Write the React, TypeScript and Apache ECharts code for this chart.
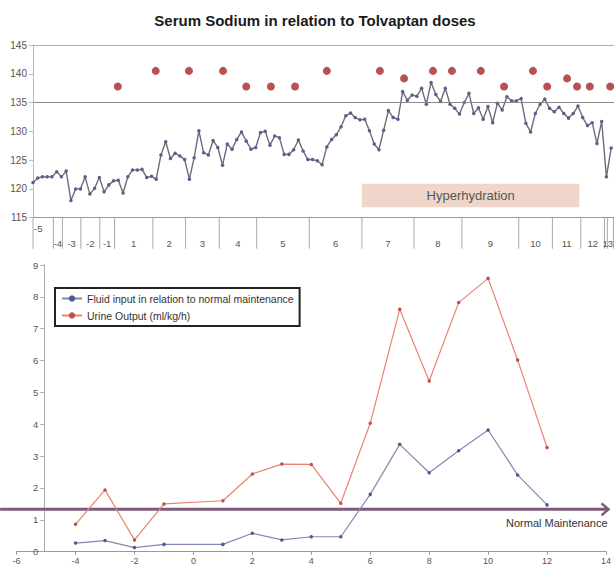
import React, { useEffect, useRef } from 'react';
import * as echarts from 'echarts';

// ---------- Top chart: serum sodium (one value per measurement index) ----------
const sodium = [
  121.1, 121.9, 122.1, 122.1, 122.1, 123.0, 122.1, 123.1, 118.0, 120.0,
  120.0, 122.1, 119.1, 120.1, 122.0, 119.5, 120.7, 121.4, 121.5, 119.3,
  122.1, 123.3, 123.3, 123.4, 122.0, 122.2, 121.7, 125.9, 128.2, 125.3,
  126.2, 125.7, 125.1, 121.7, 125.4, 130.1, 126.3, 125.9, 128.4, 127.2,
  124.1, 127.8, 126.9, 128.6, 129.9, 128.3, 126.9, 127.2, 129.8, 130.0,
  127.6, 129.2, 128.9, 126.0, 126.0, 126.8, 128.5, 126.6, 125.1, 125.1,
  124.9, 124.2, 127.3, 128.6, 129.4, 130.8, 132.7, 133.2, 132.4, 132.0,
  132.1, 130.1, 127.8, 126.8, 130.2, 133.6, 132.4, 132.1, 136.9, 135.4,
  136.3, 136.1, 137.5, 134.7, 138.5, 136.4, 135.2, 137.5, 134.7, 134.0,
  133.0, 135.0, 136.6, 133.1, 134.1, 132.1, 134.3, 131.5, 134.9, 133.7,
  136.0, 135.3, 135.3, 135.7, 131.4, 129.9, 133.1, 134.7, 135.6, 134.0,
  133.4, 134.2, 133.1, 132.3, 133.1, 134.4, 132.4, 131.0, 131.5, 127.9,
  131.7, 122.1, 127.1,
];

// Tolvaptan doses (position on the measurement index scale, plotted level)
const doseAt = [17.9, 25.9, 32.9, 40.1, 45.0, 50.2, 55.3, 62.0, 73.2, 78.3, 84.4, 88.4, 94.5, 99.4, 105.5, 108.5, 112.7, 114.8, 117.5, 121.8];
const doseLevel = [137.8, 140.5, 140.5, 140.5, 137.8, 137.8, 137.8, 140.5, 140.5, 139.2, 140.5, 140.5, 140.5, 137.8, 140.5, 137.8, 139.2, 137.8, 137.8, 137.8];

// Day bands below the top axis
const dayBoundaries = [0, 4.3, 6.2, 10.1, 14.1, 17.2, 25.3, 32.2, 39.3, 47.2, 58.3, 69.4, 80.4, 90.5, 102.5, 109.6, 115.6, 120.6, 121.2, 122.5];
const dayLabels = ['-5', '-4', '-3', '-2', '-1', '1', '2', '3', '4', '5', '6', '7', '8', '9', '10', '11', '12', '', '13'];

const hyperStart = 69.4;
const hyperEnd = 115.3;
const hyperLow = 116.8;
const hyperHigh = 120.9;

const sodiumMin = 115;
const sodiumMax = 145;
const sodiumStep = 5;
const sodiumReference = 135;
const indexMax = 122.6;

// ---------- Bottom chart ----------
const dayNumbers = [-4, -3, -2, -1, 1, 2, 3, 4, 5, 6, 7, 8, 9, 10, 11, 12];
const fluidInput = [0.27, 0.35, 0.13, 0.23, 0.23, 0.58, 0.37, 0.47, 0.47, 1.80, 3.37, 2.48, 3.17, 3.82, 2.41, 1.47];
const urineOutput = [0.86, 1.94, 0.37, 1.50, 1.60, 2.44, 2.75, 2.74, 1.52, 4.03, 7.61, 5.36, 7.82, 8.58, 6.02, 3.27];
const normalMaintenance = 1.33;
const arrowFrom = -6.56;
const arrowTo = 14.12;

const FLUID = 'Fluid input in relation to normal maintenance';
const URINE = 'Urine Output (ml/kg/h)';
const FONT = '"Liberation Sans", Arial, sans-serif';

export default function App() {
  const ref = useRef<HTMLDivElement>(null);

  useEffect(() => {
    if (!ref.current) return;
    const chart = echarts.init(ref.current, undefined, { renderer: 'svg' });

    const option: any = {
      animation: false,
      textStyle: { fontFamily: FONT },
      graphic: [
        {
          type: 'text',
          x: 315,
          y: 20,
          style: {
            text: 'Serum Sodium in relation to Tolvaptan doses',
            align: 'center',
            verticalAlign: 'middle',
            fontFamily: FONT,
            fontSize: 15,
            fontWeight: 'bold',
            fill: '#1a1a1a',
          },
        },
      ],
      legend: {
        data: [FLUID, URINE],
        orient: 'vertical',
        left: 55,
        top: 288,
        backgroundColor: '#fff',
        borderColor: '#222',
        borderWidth: 2,
        borderRadius: 0,
        padding: [5, 6, 5, 6],
        itemGap: 6,
        itemWidth: 20,
        itemHeight: 8,
        textStyle: { fontSize: 10.5, color: '#333', fontFamily: FONT },
      },
      grid: [
        { left: 33, top: 45, width: 581, height: 172.7 },
        { left: 16.6, top: 265, width: 593.8, height: 286.7 },
      ],
      xAxis: [
        {
          gridIndex: 0,
          type: 'value',
          min: 0,
          max: indexMax,
          axisLine: { show: true, onZero: false, lineStyle: { color: '#999' } },
          axisTick: { show: false },
          axisLabel: { show: false },
          splitLine: { show: false },
        },
        {
          gridIndex: 1,
          type: 'value',
          min: -6,
          max: 14,
          interval: 2,
          axisLine: { show: true, onZero: false, lineStyle: { color: '#999' } },
          axisTick: { show: true, length: 3, lineStyle: { color: '#999' } },
          axisLabel: { fontSize: 9, color: '#555', margin: 5 },
          splitLine: { show: false },
        },
      ],
      yAxis: [
        {
          gridIndex: 0,
          type: 'value',
          min: sodiumMin,
          max: sodiumMax,
          interval: sodiumStep,
          axisLine: { show: true, onZero: false, lineStyle: { color: '#bbb' } },
          axisTick: { show: true, length: 4, lineStyle: { color: '#bbb' } },
          axisLabel: { fontSize: 10, color: '#555', margin: 6 },
          splitLine: { show: false },
        },
        {
          gridIndex: 1,
          type: 'value',
          min: 0,
          max: 9,
          interval: 1,
          offset: -27.7,
          axisLine: { show: true, onZero: false, lineStyle: { color: '#aaa' } },
          axisTick: { show: true, length: 4, lineStyle: { color: '#aaa' } },
          axisLabel: { fontSize: 9.5, color: '#555', margin: 6 },
          splitLine: { show: false },
        },
      ],
      series: [
        {
          name: 'Serum sodium',
          type: 'line',
          xAxisIndex: 0,
          yAxisIndex: 0,
          data: sodium.map((v, i) => [i, v]),
          symbol: 'circle',
          symbolSize: 3.5,
          itemStyle: { color: '#56628c' },
          lineStyle: { color: '#74677c', width: 1.4 },
          z: 4,
          markLine: {
            silent: true,
            symbol: ['none', 'none'],
            label: { show: false },
            data: [
              { yAxis: sodiumReference, lineStyle: { color: '#8a8a8a', width: 1, type: 'solid' } },
              { yAxis: sodiumMax, lineStyle: { color: '#b0b0b0', width: 1, type: 'solid' } },
            ],
          },
          markArea: {
            silent: true,
            itemStyle: { color: '#f0d6ca' },
            label: {
              show: true,
              position: 'inside',
              color: '#555',
              fontSize: 13,
              fontFamily: FONT,
            },
            data: [
              [
                { name: 'Hyperhydration', coord: [hyperStart, hyperLow] },
                { coord: [hyperEnd, hyperHigh] },
              ],
            ],
          },
        },
        {
          name: 'Tolvaptan dose',
          type: 'scatter',
          xAxisIndex: 0,
          yAxisIndex: 0,
          data: doseAt.map((x, i) => [x, doseLevel[i]]),
          symbol: 'circle',
          symbolSize: 8,
          itemStyle: { color: '#a82626' },
          z: 5,
        },
        {
          name: 'day separators',
          type: 'custom',
          xAxisIndex: 0,
          yAxisIndex: 0,
          silent: true,
          clip: false,
          data: dayBoundaries.map((b) => [b, sodiumMin]),
          renderItem: (params: any, api: any) => {
            const p = api.coord([api.value(0), api.value(1)]);
            return {
              type: 'line',
              shape: { x1: p[0], y1: p[1], x2: p[0], y2: p[1] + 31 },
              style: { stroke: '#a8a8a8', lineWidth: 1 },
            };
          },
        },
        {
          name: 'day labels',
          type: 'custom',
          xAxisIndex: 0,
          yAxisIndex: 0,
          silent: true,
          clip: false,
          data: dayLabels.map((_, i) => [(dayBoundaries[i] + dayBoundaries[i + 1]) / 2, sodiumMin, i]),
          renderItem: (params: any, api: any) => {
            const i = api.value(2);
            const first = i === 0;
            const last = i === dayLabels.length - 1;
            let p = api.coord([api.value(0), api.value(1)]);
            let align = 'center';
            let dx = 0;
            if (first) {
              p = api.coord([dayBoundaries[0], sodiumMin]);
              align = 'left';
              dx = 1;
            } else if (last) {
              p = api.coord([dayBoundaries[i + 1], sodiumMin]);
              align = 'right';
              dx = -0.5;
            }
            return {
              type: 'text',
              x: p[0] + dx,
              y: p[1] + (first ? 11 : 26),
              style: {
                text: dayLabels[i],
                align,
                verticalAlign: 'middle',
                fontSize: 9.5,
                fontFamily: FONT,
                fill: '#555',
              },
            };
          },
        },
        {
          name: FLUID,
          type: 'line',
          xAxisIndex: 1,
          yAxisIndex: 1,
          data: dayNumbers.map((d, i) => [d, fluidInput[i]]),
          symbol: 'circle',
          symbolSize: 3.5,
          itemStyle: { color: '#4e5a8c' },
          lineStyle: { color: '#8189b4', width: 1.2 },
          z: 4,
        },
        {
          name: URINE,
          type: 'line',
          xAxisIndex: 1,
          yAxisIndex: 1,
          data: dayNumbers.map((d, i) => [d, urineOutput[i]]),
          symbol: 'circle',
          symbolSize: 3.5,
          itemStyle: { color: '#c0504d' },
          lineStyle: { color: '#e8836f', width: 1.2 },
          z: 4,
        },
        {
          name: 'Normal Maintenance',
          type: 'custom',
          xAxisIndex: 1,
          yAxisIndex: 1,
          silent: true,
          clip: false,
          z: 3,
          data: [[arrowFrom, arrowTo, normalMaintenance]],
          renderItem: (params: any, api: any) => {
            const a = api.coord([api.value(0), api.value(2)]);
            const b = api.coord([api.value(1), api.value(2)]);
            const c = '#7d5b7b';
            return {
              type: 'group',
              children: [
                {
                  type: 'line',
                  shape: { x1: a[0], y1: a[1], x2: b[0] - 2, y2: b[1] },
                  style: { stroke: c, lineWidth: 3 },
                },
                {
                  type: 'polyline',
                  shape: { points: [[b[0] - 8, b[1] - 6], [b[0] - 1, b[1]], [b[0] - 8, b[1] + 6]] },
                  style: { stroke: c, lineWidth: 2.5, fill: 'none' },
                },
                {
                  type: 'text',
                  x: b[0] - 2,
                  y: b[1] + 14,
                  style: {
                    text: 'Normal Maintenance',
                    align: 'right',
                    verticalAlign: 'middle',
                    fontSize: 11,
                    fontFamily: FONT,
                    fill: '#333',
                  },
                },
              ],
            };
          },
        },
      ],
    };

    chart.setOption(option);
    return () => chart.dispose();
  }, []);

  return (
    <div
      ref={ref}
      style={{ position: 'fixed', left: 0, top: 0, width: 614, height: 566, background: '#fff' }}
    />
  );
}
